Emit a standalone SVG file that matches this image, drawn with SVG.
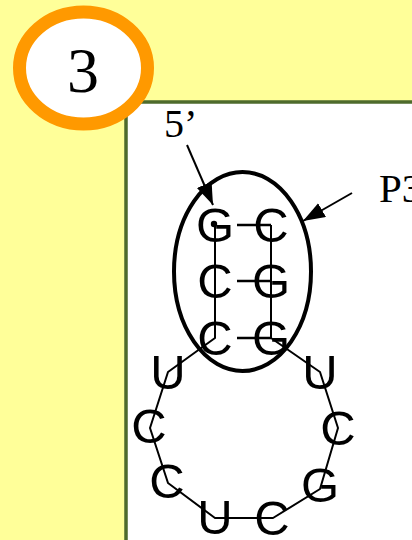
<svg xmlns="http://www.w3.org/2000/svg" width="412" height="540" viewBox="0 0 412 540">
  <style>
    .nt { font-family: "Liberation Sans", Arial, sans-serif; font-size: 49px; fill: #000; text-anchor: middle; }
    .lbl { font-family: "Liberation Serif", "Times New Roman", serif; fill: #000; }
    .bb { fill: none; stroke: #000; stroke-width: 2; stroke-linejoin: round; }
    .bp { stroke: #000; stroke-width: 2.5; }
    .arrow { stroke: #000; stroke-width: 2; marker-end: url(#head); }
  </style>
  <defs>
    <marker id="head" markerUnits="userSpaceOnUse" markerWidth="24" markerHeight="18" refX="22" refY="8" orient="auto">
      <path d="M0,0 L22,8 L0,16 Z" fill="#000"/>
    </marker>
  </defs>

  <!-- page background -->
  <rect x="0" y="0" width="412" height="540" fill="#FFFF99"/>

  <!-- white panel with green frame -->
  <g id="panel">
    <rect x="126" y="102" width="300" height="450" fill="#FFFFFF" stroke="#4E6B2C" stroke-width="3.5"/>
  </g>

  <!-- step badge -->
  <g id="badge">
    <ellipse cx="83.5" cy="68" rx="64" ry="56" fill="#FFFFFF" stroke="#FF9900" stroke-width="13"/>
    <text class="lbl" x="83" y="92" font-size="64" text-anchor="middle">3</text>
  </g>

  <!-- P3 helix outline -->
  <g id="p3-outline">
    <ellipse cx="242.5" cy="271.5" rx="68.5" ry="99.5" fill="none" stroke="#000" stroke-width="4"/>
  </g>

  <!-- nucleotides -->
  <g id="nt1"><text class="nt" x="215" y="242">G</text></g>
  <g id="nt2"><text class="nt" x="215" y="298">C</text></g>
  <g id="nt3"><text class="nt" x="215" y="355">C</text></g>
  <g id="nt4"><text class="nt" x="168" y="389">U</text></g>
  <g id="nt5"><text class="nt" x="149" y="443">C</text></g>
  <g id="nt6"><text class="nt" x="167" y="498">C</text></g>
  <g id="nt7"><text class="nt" x="215" y="534">U</text></g>
  <g id="nt8"><text class="nt" x="272" y="535">C</text></g>
  <g id="nt9"><text class="nt" x="320" y="502">G</text></g>
  <g id="nt10"><text class="nt" x="338" y="445">C</text></g>
  <g id="nt11"><text class="nt" x="320" y="389">U</text></g>
  <g id="nt12"><text class="nt" x="271" y="355">G</text></g>
  <g id="nt13"><text class="nt" x="271" y="298">G</text></g>
  <g id="nt14"><text class="nt" x="271" y="242">C</text></g>

  <!-- labels -->
  <g id="label-5prime"><text class="lbl" x="164" y="137" font-size="40">5’</text></g>
  <g id="label-p3"><text class="lbl" x="379" y="202" font-size="41">P3</text></g>

  <!-- backbone, base pairs and pointers -->
  <g id="connectors">
    <polyline class="bb" points="215,225 215,338 168,372 150,428 168,483 215,518 273,518 320,489 338,428 320,372 271,338 271,225"/>
    <circle cx="214" cy="224" r="3.2" fill="#000"/>
    <line class="bp" x1="237" y1="225" x2="271" y2="225"/>
    <line class="bp" x1="237" y1="281" x2="271" y2="281"/>
    <line class="bp" x1="237" y1="338" x2="271" y2="338"/>
    <line class="arrow" x1="187" y1="145" x2="213" y2="205"/>
    <line class="arrow" x1="352" y1="193" x2="303" y2="221"/>
  </g>
</svg>
